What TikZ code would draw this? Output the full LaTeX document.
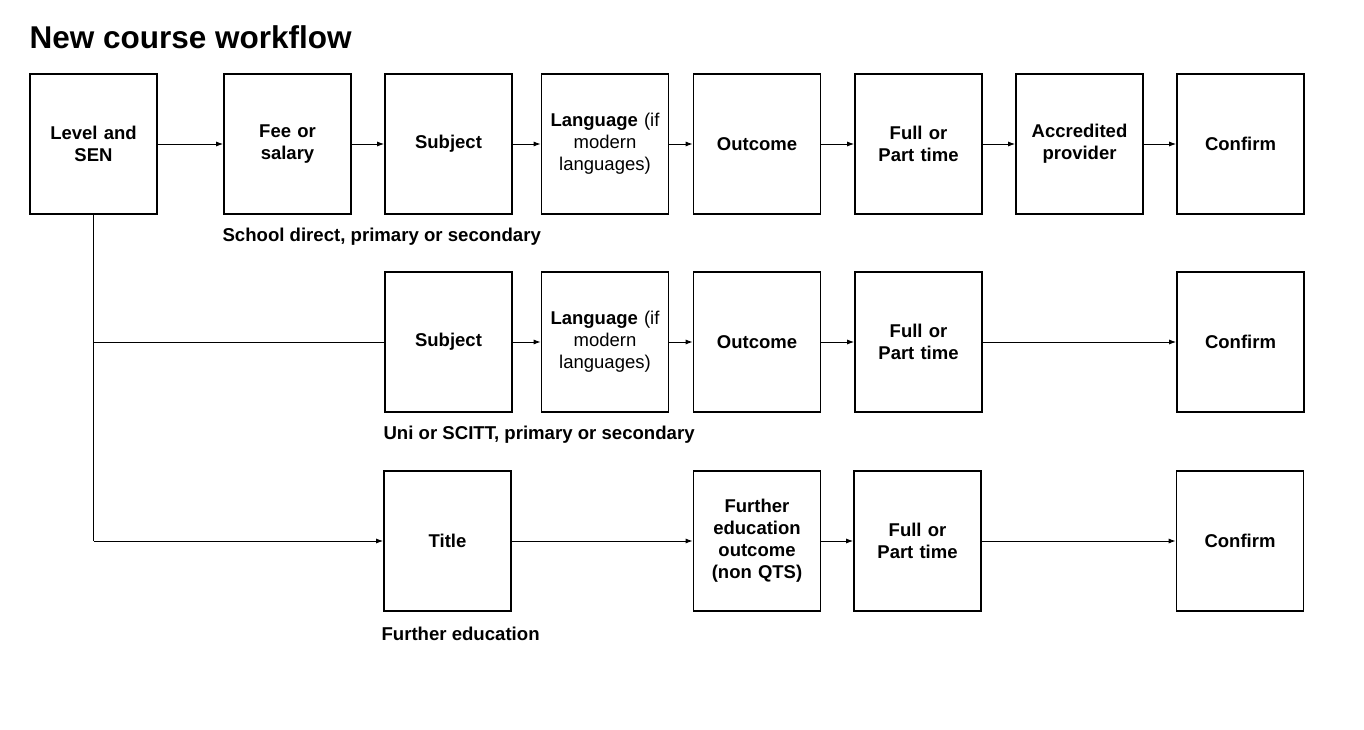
\documentclass[tikz,border=0pt]{standalone}
\usepackage{fontspec}
\setmainfont{Liberation Sans}
\usetikzlibrary{arrows.meta}

\tikzset{
  stage/.style={draw, line width=1.7pt, minimum width=127pt, minimum height=140pt,
    inner sep=2pt, align=center, text width=120pt,
    font=\fontsize{18.5}{22}\selectfont\bfseries},
  track/.style={anchor=west, font=\fontsize{18.6}{22}\selectfont\bfseries},
  flow/.style={line width=0.9pt, -{Latex[length=7pt,width=5pt]}},
  feed/.style={line width=0.9pt}
}

\begin{document}
\begin{tikzpicture}[x=1pt,y=-1pt]
\useasboundingbox (0,0) rectangle (1364,730);
%\draw[help lines,step=100] (0,0) grid (1364,730);
\node[anchor=west, font=\fontsize{31.5}{36}\selectfont\bfseries] (title) at (26,37) {New course workflow};

% school direct
\node[stage] (level) at (93.5,144) {Level and\\SEN};
\node[stage] (fee) at (287.5,144) {Fee or\\salary};
\node[stage] (subjA) at (448.5,144) {Subject};
\node[stage] (langA) at (605,144) {Language \mdseries(if\\modern\\languages)};
\node[stage] (outA) at (757,144) {Outcome};
\node[stage] (timeA) at (918.5,144) {Full or\\Part time};
\node[stage] (prov) at (1079.5,144) {Accredited\\provider};
\node[stage] (confA) at (1240.5,144) {Confirm};
\node[track] (lblA) at (219,237) {School direct, primary or secondary};

% uni or scitt
\node[stage] (subjB) at (448.5,342) {Subject};
\node[stage] (langB) at (605,342) {Language \mdseries(if\\modern\\languages)};
\node[stage] (outB) at (757,342) {Outcome};
\node[stage] (timeB) at (918.5,342) {Full or\\Part time};
\node[stage] (confB) at (1240.5,342) {Confirm};
\node[track] (lblB) at (380,435) {Uni or SCITT, primary or secondary};

% further education
\node[stage] (titleC) at (447.5,541) {Title};
\node[stage] (outC) at (757,541) {Further\\education\\outcome\\(non QTS)};
\node[stage] (timeC) at (917.5,541) {Full or\\Part time};
\node[stage] (confC) at (1240,541) {Confirm};
\node[track] (lblC) at (378,634) {Further education};

\coordinate (jB) at (level.south |- subjB.west);
\coordinate (jC) at (level.south |- titleC.west);

\draw[flow] (level) -- (fee);
\draw[flow] (fee) -- (subjA);
\draw[flow] (subjA) -- (langA);
\draw[flow] (langA) -- (outA);
\draw[flow] (outA) -- (timeA);
\draw[flow] (timeA) -- (prov);
\draw[flow] (prov) -- (confA);

\draw[feed] (level.south) -- (jC);
\draw[feed] (jB) -- (subjB.west);
\draw[flow] (subjB) -- (langB);
\draw[flow] (langB) -- (outB);
\draw[flow] (outB) -- (timeB);
\draw[flow] (timeB) -- (confB);

\draw[flow] (jC) -- (titleC.west);
\draw[flow] (titleC) -- (outC);
\draw[flow] (outC) -- (timeC);
\draw[flow] (timeC) -- (confC);
\end{tikzpicture}
\end{document}
